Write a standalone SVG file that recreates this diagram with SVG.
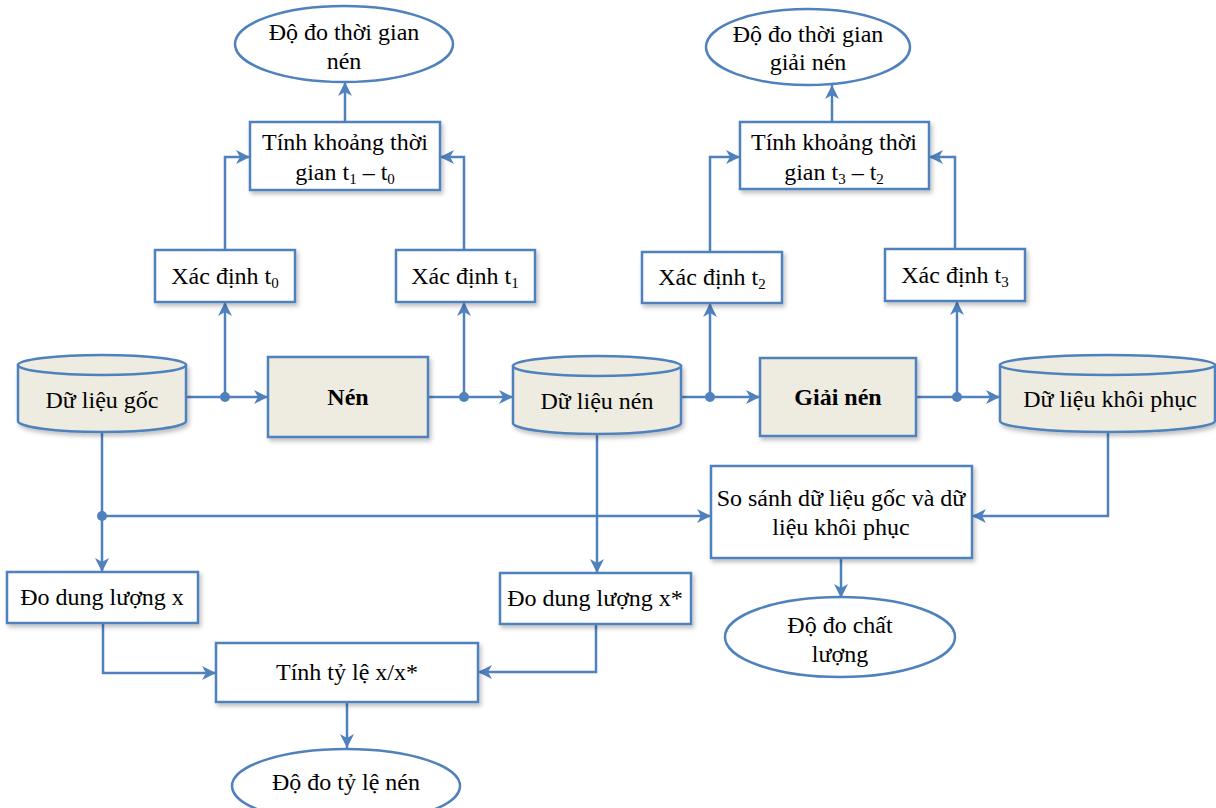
<svg xmlns="http://www.w3.org/2000/svg" width="1216" height="808" viewBox="0 0 1216 808">
<defs>
<filter id="sh" x="-10%" y="-10%" width="130%" height="140%">
<feDropShadow dx="2" dy="3" stdDeviation="2" flood-color="#000" flood-opacity="0.25"/>
</filter>
<marker id="ar" markerUnits="userSpaceOnUse" markerWidth="16" markerHeight="16" viewBox="0 0 16 16" refX="15" refY="8" orient="auto">
<path d="M1,1 L15,8 L1,15 L5,8 Z" fill="#4F81BD"/>
</marker>
</defs>
<style>
.b{fill:#fff;stroke:#4F81BD;stroke-width:2.5;filter:url(#sh)}
.g{fill:#EEECE1;stroke:#4F81BD;stroke-width:2.5;filter:url(#sh)}
.gt{fill:#EEECE1;stroke:#4F81BD;stroke-width:2.5}
.e{fill:#fff;stroke:#4F81BD;stroke-width:2.5}
.c{fill:none;stroke:#4F81BD;stroke-width:2.5;marker-end:url(#ar)}
.d{fill:#4F81BD}
.t{font-family:'Liberation Serif','DejaVu Serif',serif;font-size:24px;fill:#000;text-anchor:middle}
.bold{font-weight:bold}
.s{font-size:15px}
</style>
<g id="connectors">
<path class="c" d="M186,397 L268,397"/>
<path class="c" d="M225,397 L225,302"/>
<path class="c" d="M225,250 L225,157 L250,157"/>
<path class="c" d="M428,397 L513,397"/>
<path class="c" d="M464,397 L464,302"/>
<path class="c" d="M464,250 L464,157 L440,157"/>
<path class="c" d="M345,122 L345,82"/>
<path class="c" d="M681,397 L760,397"/>
<path class="c" d="M710,397 L710,303"/>
<path class="c" d="M710,252 L710,157 L740,157"/>
<path class="c" d="M916,397 L1000,397"/>
<path class="c" d="M957,397 L957,301"/>
<path class="c" d="M955,249 L955,157 L929,157"/>
<path class="c" d="M832,122 L832,85"/>
<path class="c" d="M102,432 L102,572"/>
<path class="c" d="M102,516 L711,516"/>
<path class="c" d="M1108,432 L1108,516 L972,516"/>
<path class="c" d="M841,558 L841,598"/>
<path class="c" d="M103,623 L103,673 L216,673"/>
<path class="c" d="M597,434 L597,573"/>
<path class="c" d="M596,624 L596,672 L478,672"/>
<path class="c" d="M347,702 L347,748"/>
<circle class="d" cx="225" cy="397" r="5"/>
<circle class="d" cx="464" cy="397" r="5"/>
<circle class="d" cx="710" cy="397" r="5"/>
<circle class="d" cx="957" cy="397" r="5"/>
<circle class="d" cx="102" cy="516" r="5"/>
</g>
<g id="n-time-comp">
<ellipse class="e" cx="344" cy="44" rx="109" ry="38"/>
<text class="t" x="344" y="40">Độ đo thời gian</text>
<text class="t" x="344" y="69">nén</text>
</g>
<g id="n-calc1">
<rect class="b" x="250" y="122" width="190" height="68"/>
<text class="t" x="345" y="150">Tính khoảng thời</text>
<text class="t" x="345" y="180">gian t<tspan class="s" dy="4">1</tspan><tspan dy="-4"> – t</tspan><tspan class="s" dy="4">0</tspan></text>
</g>
<g id="n-t0">
<rect class="b" x="155" y="250" width="140" height="52"/>
<text class="t" x="225" y="284">Xác định t<tspan class="s" dy="4">0</tspan></text>
</g>
<g id="n-t1">
<rect class="b" x="396" y="250" width="139" height="52"/>
<text class="t" x="465" y="284">Xác định t<tspan class="s" dy="4">1</tspan></text>
</g>
<g id="n-time-decomp">
<ellipse class="e" cx="808" cy="47" rx="102" ry="38"/>
<text class="t" x="808" y="42">Độ đo thời gian</text>
<text class="t" x="808" y="70">giải nén</text>
</g>
<g id="n-calc2">
<rect class="b" x="740" y="122" width="189" height="67"/>
<text class="t" x="834" y="150">Tính khoảng thời</text>
<text class="t" x="834" y="180">gian t<tspan class="s" dy="4">3</tspan><tspan dy="-4"> – t</tspan><tspan class="s" dy="4">2</tspan></text>
</g>
<g id="n-t2">
<rect class="b" x="642" y="252" width="140" height="51"/>
<text class="t" x="712" y="285">Xác định t<tspan class="s" dy="4">2</tspan></text>
</g>
<g id="n-t3">
<rect class="b" x="885" y="249" width="140" height="52"/>
<text class="t" x="955" y="283">Xác định t<tspan class="s" dy="4">3</tspan></text>
</g>
<g id="n-orig">
<path class="g" d="M18,365 L18,421 A84,11 0 0 0 186,421 L186,365 Z"/>
<ellipse class="gt" cx="102" cy="365" rx="84" ry="10"/>
<text class="t" x="102" y="408">Dữ liệu gốc</text>
</g>
<g id="n-nen">
<rect class="g" x="268" y="357" width="160" height="80"/>
<text class="t bold" x="348" y="405">Nén</text>
</g>
<g id="n-comp">
<path class="g" d="M513,366 L513,423 A84,11 0 0 0 681,423 L681,366 Z"/>
<ellipse class="gt" cx="597" cy="366" rx="84" ry="10"/>
<text class="t" x="597" y="409">Dữ liệu nén</text>
</g>
<g id="n-giainen">
<rect class="g" x="760" y="358" width="156" height="78"/>
<text class="t bold" x="838" y="405">Giải nén</text>
</g>
<g id="n-restored">
<path class="g" d="M1000,365 L1000,421 A107.5,11 0 0 0 1215,421 L1215,365 Z"/>
<ellipse class="gt" cx="1107.5" cy="365" rx="107.5" ry="10"/>
<text class="t" x="1110" y="407">Dữ liệu khôi phục</text>
</g>
<g id="n-compare">
<rect class="b" x="711" y="466" width="261" height="92"/>
<text class="t" x="841" y="506">So sánh dữ liệu gốc và dữ</text>
<text class="t" x="841" y="535">liệu khôi phục</text>
</g>
<g id="n-quality">
<ellipse class="e" cx="840" cy="637" rx="115" ry="40"/>
<text class="t" x="840" y="633">Độ đo chất</text>
<text class="t" x="840" y="662">lượng</text>
</g>
<g id="n-sizex">
<rect class="b" x="7" y="572" width="191" height="51"/>
<text class="t" x="102" y="605">Đo dung lượng x</text>
</g>
<g id="n-sizexs">
<rect class="b" x="500" y="573" width="191" height="51"/>
<text class="t" x="595" y="606">Đo dung lượng x*</text>
</g>
<g id="n-ratio">
<rect class="b" x="216" y="643" width="262" height="59"/>
<text class="t" x="347" y="680">Tính tỷ lệ x/x*</text>
</g>
<g id="n-ratio-out">
<ellipse class="e" cx="346" cy="786" rx="114" ry="37"/>
<text class="t" x="346" y="790">Độ đo tỷ lệ nén</text>
</g>
</svg>
